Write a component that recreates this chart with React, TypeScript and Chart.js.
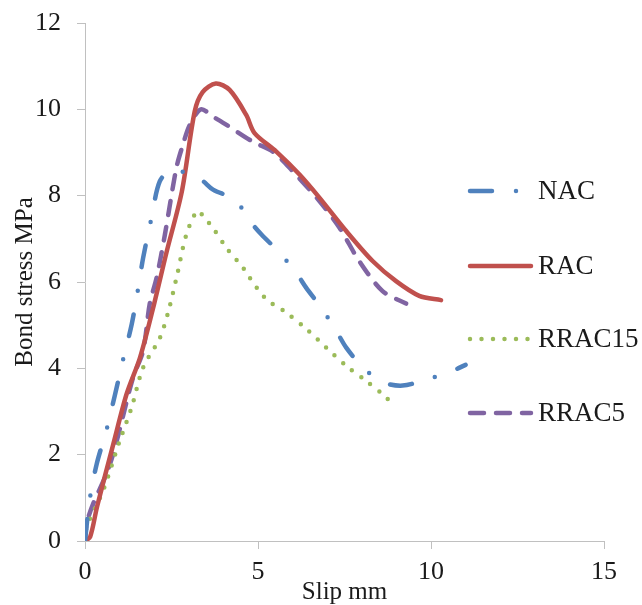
import React, { useEffect, useRef } from "react";
import { Chart, registerables } from "chart.js";

Chart.register(...registerables);

const seriesNames = ["NAC", "RAC", "RRAC15", "RRAC5"];

const nacX = [0, 0.14, 0.34, 0.63, 0.87, 1.1, 1.35, 1.54, 1.68, 1.92, 2.16, 2.5, 3.0, 3.36, 3.7, 4.33, 4.85, 5.1, 5.62, 6.1, 6.39, 6.82, 7.26, 7.55, 8.03, 8.6, 9.18, 9.9, 10.5, 11.0];
const nacY = [0, 0.98, 1.79, 2.6, 3.4, 4.2, 5.02, 5.87, 6.56, 7.48, 8.33, 8.6, 8.5, 8.37, 8.14, 7.9, 7.33, 7.1, 6.68, 6.22, 5.87, 5.41, 4.87, 4.48, 4.02, 3.68, 3.6, 3.75, 3.9, 4.08];

const racX = [0, 0.15, 0.35, 0.82, 1.2, 1.59, 2.0, 2.36, 2.8, 3.17, 3.4, 3.78, 4.18, 4.66, 4.9, 5.53, 6.2, 6.78, 7.55, 8.32, 8.99, 9.66, 10.29];
const racY = [0, 0.1, 0.8, 2.25, 3.4, 4.25, 5.5, 6.7, 8.1, 9.95, 10.4, 10.6, 10.45, 9.87, 9.45, 9.02, 8.49, 7.95, 7.18, 6.48, 6.02, 5.68, 5.58];

const rrac15X = [0, 0.05, 0.53, 0.99, 1.35, 1.68, 2.16, 2.4, 2.67, 2.93, 3.25, 3.46, 3.7, 4.09, 4.57, 4.76, 5.24, 5.82, 6.44, 6.97, 7.55, 8.12, 8.7, 8.94];
const rrac15Y = [0, 0.33, 1.18, 2.29, 3.1, 4.02, 4.7, 5.29, 6.19, 7.1, 7.65, 7.48, 7.25, 6.79, 6.33, 6.1, 5.6, 5.29, 4.88, 4.48, 4.06, 3.71, 3.33, 3.1];

const rrac5X = [0, 0.05, 0.24, 0.58, 0.82, 1.1, 1.39, 1.68, 1.87, 2.07, 2.31, 2.64, 2.83, 3.03, 3.35, 3.7, 4.09, 4.85, 5.43, 6.01, 6.78, 7.36, 7.93, 8.6, 9.28];
const rrac5Y = [0, 0.41, 0.87, 1.48, 2.03, 2.9, 3.79, 4.41, 5.49, 6.1, 7.1, 8.64, 9.18, 9.64, 10.0, 9.83, 9.64, 9.25, 9.02, 8.56, 7.87, 7.25, 6.48, 5.79, 5.5];

const xTicksMin = 0;
const xTicksMax = 15;
const xStep = 5;
const yTicksMin = 0;
const yTicksMax = 12;
const yStep = 2;

const xTitle = "Slip mm";
const yTitle = "Bond stress MPa";

const colors = ["#4F81BD", "#C0504D", "#9BBB59", "#8064A2"];
const dashes = [[22, 24, 0, 24], [], [0, 11.5], [14, 12]];

const FONT = "'Liberation Serif', 'Times New Roman', serif";

function pts(xs: number[], ys: number[]) {
  return xs.map((x, i) => ({ x, y: ys[i] }));
}

const overlayPlugin = {
  id: "overlay",
  afterDraw(chart: any) {
    const ctx = chart.ctx;
    const area = chart.chartArea;
    ctx.save();
    // legend
    const legendYs = [191, 266, 339, 413];
    chart.data.datasets.forEach((ds: any, i: number) => {
      const y = legendYs[i];
      ctx.beginPath();
      ctx.strokeStyle = ds.borderColor;
      ctx.lineWidth = ds.borderWidth;
      ctx.lineCap = "round";
      ctx.setLineDash(ds.borderDash || []);
      ctx.moveTo(470, y);
      ctx.lineTo(531, y);
      ctx.stroke();
      ctx.setLineDash([]);
      ctx.fillStyle = "#1a1a1a";
      ctx.font = "27px " + FONT;
      ctx.textAlign = "left";
      ctx.textBaseline = "middle";
      ctx.fillText(ds.label, 538, y + 1);
    });
    // axis titles
    ctx.fillStyle = "#1a1a1a";
    ctx.font = "25px " + FONT;
    ctx.textAlign = "center";
    ctx.textBaseline = "middle";
    ctx.fillText(xTitle, (area.left + area.right) / 2, 592);
    ctx.translate(25, (area.top + area.bottom) / 2);
    ctx.rotate(-Math.PI / 2);
    ctx.fillText(yTitle, 0, 0);
    ctx.restore();
  },
};

export default function App() {
  const ref = useRef<HTMLCanvasElement | null>(null);
  useEffect(() => {
    document.body.style.margin = "0";
    const series = [pts(nacX, nacY), pts(racX, racY), pts(rrac15X, rrac15Y), pts(rrac5X, rrac5Y)];
    const chart = new Chart(ref.current as HTMLCanvasElement, {
      type: "line",
      data: {
        datasets: series.map((d, i) => ({
          label: seriesNames[i],
          data: d,
          borderColor: colors[i],
          backgroundColor: colors[i],
          borderWidth: 4.5,
          borderDash: dashes[i],
          borderCapStyle: "round",
          borderJoinStyle: "round",
          pointRadius: 0,
          tension: 0.3,
          fill: false,
        })),
      },
      options: {
        animation: false,
        responsive: false,
        devicePixelRatio: 1,
        layout: { padding: { top: 23, right: 38, left: 0, bottom: 0 } },
        plugins: { legend: { display: false }, tooltip: { enabled: false } },
        scales: {
          x: {
            type: "linear",
            min: xTicksMin,
            max: xTicksMax,
            ticks: { stepSize: xStep, color: "#1a1a1a", font: { family: FONT, size: 26 }, padding: 8 },
            grid: { drawOnChartArea: false, drawTicks: true, tickLength: 8, color: "#c0c0c0" },
            border: { color: "#c0c0c0", width: 1 },
            afterFit: (s: any) => { s.height = 64; s.paddingLeft = 0; s.paddingRight = 0; },
          },
          y: {
            type: "linear",
            min: yTicksMin,
            max: yTicksMax,
            ticks: { stepSize: yStep, color: "#1a1a1a", font: { family: FONT, size: 26 }, padding: 16 },
            grid: { drawOnChartArea: false, drawTicks: true, tickLength: 8, color: "#c0c0c0" },
            border: { color: "#c0c0c0", width: 1 },
            afterFit: (s: any) => { s.width = 85; s.paddingTop = 0; s.paddingBottom = 0; },
          },
        },
      } as any,
      plugins: [overlayPlugin],
    });
    return () => chart.destroy();
  }, []);
  return (
    <div style={{ position: "absolute", left: 0, top: 0, width: 642, height: 605 }}>
      <canvas ref={ref} width={642} height={605} />
    </div>
  );
}
